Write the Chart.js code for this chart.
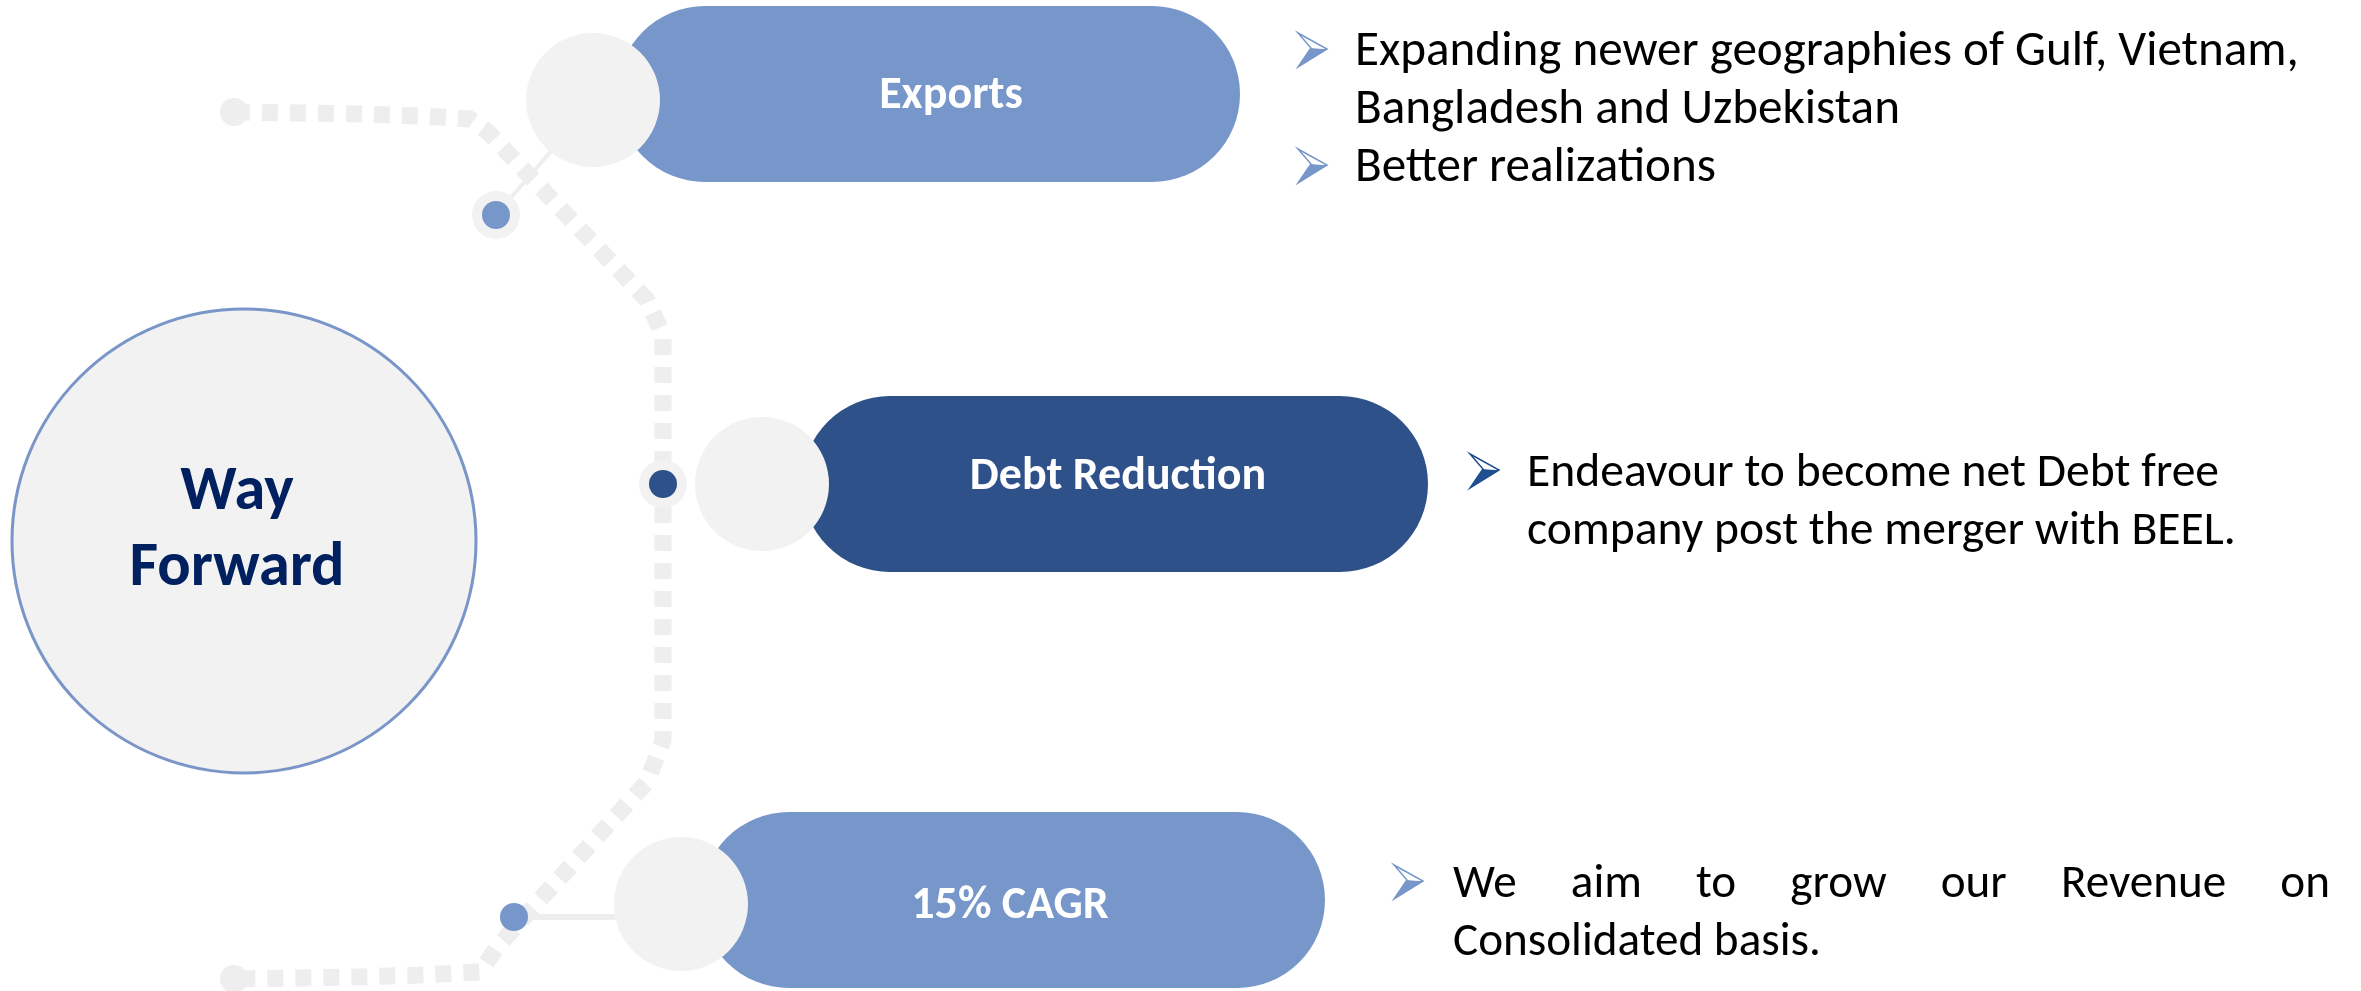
<!DOCTYPE html>
<html>
<head>
<meta charset="utf-8">
<script src="https://cdn.jsdelivr.net/npm/chart.js@4"></script>
<style>
  html, body { margin: 0; padding: 0; background: #ffffff; }
  #wrap { width: 2361px; height: 991px; position: relative; }
</style>
</head>
<body>
<div id="wrap"><canvas id="c"></canvas></div>
<script>
// ---------- content ----------
const hubTitle = ['Way', 'Forward'];
const stageLabels = ['Exports', 'Debt Reduction', '15% CAGR'];
const stageNotes = [
  [['Expanding newer geographies of Gulf, Vietnam,', 'Bangladesh and Uzbekistan'], ['Better realizations']],
  [['Endeavour to become net Debt free', 'company post the merger with BEEL.']],
  [['We aim to grow our Revenue on', 'Consolidated basis.']]
];
const stageJustify = [false, false, true];

// ---------- layout (canvas units, 2361 x 991) ----------
const pathX = [234, 300, 360, 420, 470, 489, 647, 663, 663, 647, 498, 480, 420, 360, 300, 234];
const pathY = [112, 113, 114, 116, 119, 133, 300, 335, 740, 782, 946, 972, 975, 977, 978, 979];
const hub = { x: 244, y: 541, r: 232 };
const pillStartX = [705, 890, 789];
const pillEndX = [1152, 1340, 1237];
const pillY = [94, 484, 900];
const knobX = [593, 762, 681];
const knobY = [100, 484, 904];
const dotX = [496, 663, 514];
const dotY = [215, 484, 917];
const ringed = [true, true, false];
const connFrom = [[496, 215], null, [514, 917]];
const connTo = [[552, 150], null, [640, 917]];
const labelX = [951, 1118, 1010];
const labelBase = [108, 489, 918];
const labelWidth = [145, 306, 205];
const noteArrowX = [1298, 1470, 1394];
const noteTextX = [1355, 1527, 1453];
const noteFirstBase = [65, 486, 897];
const noteRefLine = [[0, 0], [0, 1], [0, 1]];
const noteRefWidth = [944, 709, 368];
const noteJustifyRight = [null, null, 2330];
const lineGap = 58;

const LIGHT = '#7796c9';
const DARK = '#2f5189';
const GREY = '#f2f2f2';
const DASH = '#eeeeee';
const colors = [LIGHT, DARK, LIGHT];
const arrowColors = ['#7796c9', '#1f4e91', '#7796c9'];
const FONT = 'Carlito, Lato, "Open Sans", sans-serif';

// ---------- datasets ----------
const pts = (xs, ys) => xs.map((x, i) => ({ x, y: ys[i] }));
const datasets = [];

datasets.push({ // dotted route
  type: 'scatter', showLine: true, data: pts(pathX, pathY),
  borderColor: DASH, borderWidth: 17, borderDash: [16, 12], borderCapStyle: 'butt',
  borderJoinStyle: 'round', pointRadius: 0, tension: 0, order: 10
});
datasets.push({ // route end caps
  type: 'scatter', data: [pts(pathX, pathY)[0], pts(pathX, pathY)[pathX.length - 1]],
  backgroundColor: DASH, borderWidth: 0, pointRadius: 14, order: 9
});
connFrom.forEach((f, i) => {
  if (!f) return;
  datasets.push({
    type: 'scatter', showLine: true, data: [{ x: f[0], y: f[1] }, { x: connTo[i][0], y: connTo[i][1] }],
    borderColor: '#eeeeee', borderWidth: i === 2 ? 6 : 4, pointRadius: 0, order: 8
  });
});
datasets.push({ // hub circle
  type: 'scatter', data: [{ x: hub.x, y: hub.y }],
  backgroundColor: GREY, borderColor: '#7a96c8', borderWidth: 3, pointRadius: hub.r, order: 7
});
stageLabels.forEach((s, i) => {
  datasets.push({ // pill
    type: 'scatter', showLine: true,
    data: [{ x: pillStartX[i], y: pillY[i] }, { x: pillEndX[i], y: pillY[i] }],
    borderColor: colors[i], borderWidth: 176, borderCapStyle: 'round', pointRadius: 0, order: 6
  });
});
datasets.push({ // knobs
  type: 'scatter', data: pts(knobX, knobY),
  backgroundColor: GREY, borderWidth: 0, pointRadius: 67, order: 5
});
datasets.push({ // dot rings
  type: 'scatter', data: pts(dotX, dotY).filter((p, i) => ringed[i]),
  backgroundColor: GREY, borderWidth: 0, pointRadius: 24, order: 4
});
datasets.push({ // dots
  type: 'scatter', data: pts(dotX, dotY),
  backgroundColor: colors, borderWidth: 0, pointRadius: 14, order: 3
});
datasets.forEach(d => { d.clip = false; });

// ---------- text plugin ----------
function fitSize(ctx, text, weight, target, base) {
  ctx.font = `${weight} ${base}px ${FONT}`;
  const w = ctx.measureText(text).width;
  return base * target / w;
}
function drawArrow(ctx, x, yTop, color) {
  const h = 34, w = 29;
  const tl = [x, yTop], tip = [x + w, yTop + 16], notch = [x + 13, yTop + 15], bl = [x, yTop + h];
  ctx.save();
  ctx.beginPath();
  ctx.moveTo(notch[0], notch[1]); ctx.lineTo(tip[0], tip[1]); ctx.lineTo(bl[0], bl[1]); ctx.closePath();
  ctx.fillStyle = color; ctx.fill();
  ctx.beginPath();
  ctx.moveTo(tl[0], tl[1]); ctx.lineTo(tip[0], tip[1]); ctx.lineTo(notch[0], notch[1]); ctx.closePath();
  ctx.fillStyle = '#ffffff'; ctx.fill();
  ctx.lineWidth = 1.5; ctx.strokeStyle = color;
  ctx.beginPath();
  ctx.moveTo(tl[0], tl[1]); ctx.lineTo(tip[0], tip[1]); ctx.lineTo(bl[0], bl[1]); ctx.lineTo(notch[0], notch[1]); ctx.closePath();
  ctx.stroke();
  ctx.restore();
}
const textPlugin = {
  id: 'texts',
  afterDatasetsDraw(chart) {
    const ctx = chart.ctx, sx = chart.scales.x, sy = chart.scales.y;
    const X = v => sx.getPixelForValue(v), Y = v => sy.getPixelForValue(v);
    ctx.save();
    // hub title
    const hs = fitSize(ctx, hubTitle[1], 'bold', 215, 50);
    ctx.font = `bold ${hs}px ${FONT}`;
    ctx.fillStyle = '#002060';
    ctx.textAlign = 'center';
    ctx.textBaseline = 'alphabetic';
    ctx.fillText(hubTitle[0], X(237), Y(509));
    ctx.fillText(hubTitle[1], X(237), Y(585));
    // pill labels
    stageLabels.forEach((s, i) => {
      const fs = Math.min(fitSize(ctx, s, 'bold', labelWidth[i], 40), 46);
      ctx.font = `bold ${fs}px ${FONT}`;
      ctx.fillStyle = '#ffffff';
      ctx.textAlign = 'center';
      ctx.fillText(s, X(labelX[i]), Y(labelBase[i]));
    });
    // notes
    stageNotes.forEach((bullets, i) => {
      const ref = bullets[noteRefLine[i][0]][noteRefLine[i][1]];
      const fs = fitSize(ctx, ref, 'normal', noteRefWidth[i], 40);
      ctx.font = `normal ${fs}px ${FONT}`;
      ctx.fillStyle = '#000000';
      ctx.textAlign = 'left';
      let n = 0;
      bullets.forEach(lines => {
        const base = noteFirstBase[i] + n * lineGap;
        drawArrow(ctx, X(noteArrowX[i]), Y(base - 32), arrowColors[i]);
        lines.forEach((ln, k) => {
          const b = Y(noteFirstBase[i] + n * lineGap);
          const justify = stageJustify[i] && k < lines.length - 1 && noteJustifyRight[i];
          if (justify) {
            const words = ln.split(' ');
            const total = words.reduce((a, w) => a + ctx.measureText(w).width, 0);
            const gap = (X(noteJustifyRight[i]) - X(noteTextX[i]) - total) / (words.length - 1);
            let cx = X(noteTextX[i]);
            words.forEach(w => { ctx.fillText(w, cx, b); cx += ctx.measureText(w).width + gap; });
          } else {
            ctx.fillText(ln, X(noteTextX[i]), b);
          }
          n++;
        });
      });
    });
    ctx.restore();
  }
};

// ---------- chart ----------
new Chart(document.getElementById('c'), {
  type: 'scatter',
  data: { datasets },
  options: {
    responsive: true, maintainAspectRatio: false, animation: false, events: [],
    layout: { autoPadding: false, padding: 0 },
    scales: {
      x: { type: 'linear', min: 0, max: 2361, display: false },
      y: { type: 'linear', min: 0, max: 991, reverse: true, display: false }
    },
    plugins: { legend: { display: false }, tooltip: { enabled: false } }
  },
  plugins: [textPlugin]
});
</script>
</body>
</html>
